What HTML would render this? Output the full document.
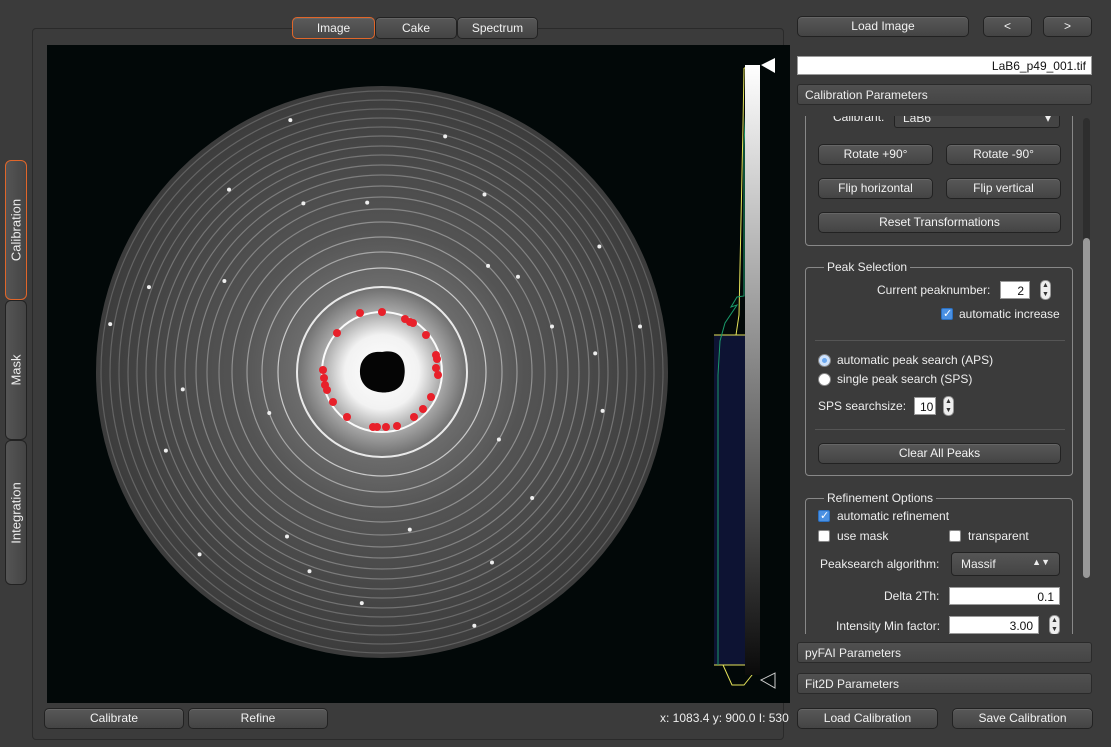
<!DOCTYPE html>
<html><head><meta charset="utf-8">
<style>
*{box-sizing:border-box}
body{margin:0;width:1111px;height:747px;background:#3b3b3b;font-family:"Liberation Sans",sans-serif;font-size:12px;color:#eee;position:relative;overflow:hidden}
.btn{position:absolute;border:1px solid #222;border-radius:5px;background:linear-gradient(#585858,#444);color:#f2f2f2;text-align:center;font-size:12px;box-shadow:inset 0 1px 0 #666}
.abs{position:absolute}
.group{position:absolute;border:1px solid #888;border-radius:4px}
.gtitle{position:absolute;top:-8px;left:18px;background:#3b3b3b;padding:0 3px;font-size:12px}
.hdr{position:absolute;left:797px;width:295px;height:21px;border:1px solid #2a2a2a;border-radius:3px;background:linear-gradient(#505050,#454545);padding:3px 7px;font-size:12px}
.inp{position:absolute;background:#fff;color:#111;border:1px solid #999;text-align:right;padding:2px 5px;font-size:12px;height:18px}
.cb{position:absolute;width:12px;height:12px;background:#fff;border:1px solid #888;border-radius:2px}
.cb.on{background:#4a90e2;border-color:#2a70c2}
.cb.on::after{content:"✓";color:#fff;font-size:11px;position:absolute;left:1px;top:-2px}
.rb{position:absolute;width:13px;height:13px;border-radius:50%;background:#fff;border:1px solid #888}
.rb.on{background:#6aa8f0;box-shadow:inset 0 0 0 3px #cfe2fb}
.vtab{position:absolute;left:5px;width:22px;border:1px solid #222;border-radius:6px;background:linear-gradient(90deg,#555,#444)}
.vtab span{position:absolute;left:50%;top:50%;transform:translate(-50%,-50%) rotate(-90deg);white-space:nowrap;font-size:13px}
.spin{position:absolute;width:11px;height:20px;border:1px solid #999;border-radius:5px;background:#eee;color:#333;font-size:7px;line-height:9px;text-align:center}
</style></head><body>
<div class="abs" style="left:32px;top:28px;width:752px;height:712px;border:1px solid #2a2a2a;border-radius:4px;background:#3b3b3b"></div>
<div class="btn" style="left:292px;top:17px;width:83px;height:22px;line-height:20px;border-color:#e0662a;background:linear-gradient(#5a5a5a,#474747)">Image</div>
<div class="btn" style="left:375px;top:17px;width:82px;height:22px;line-height:20px">Cake</div>
<div class="btn" style="left:457px;top:17px;width:81px;height:22px;line-height:20px">Spectrum</div>

<div class="vtab" style="top:160px;height:140px;border-color:#e0662a"><span>Calibration</span></div>
<div class="vtab" style="top:300px;height:140px"><span>Mask</span></div>
<div class="vtab" style="top:440px;height:145px"><span>Integration</span></div>

<svg class="abs" style="left:47px;top:45px" width="743" height="658" viewBox="0 0 743 658">
<defs>
<radialGradient id="disc" cx="335" cy="327" r="286" gradientUnits="userSpaceOnUse">
<stop offset="0" stop-color="#fff"/><stop offset="0.13" stop-color="#f2f2f2"/><stop offset="0.2" stop-color="#b0b0b0"/><stop offset="0.3" stop-color="#6c6c6c"/><stop offset="0.5" stop-color="#545454"/><stop offset="1" stop-color="#3c3c3c"/>
</radialGradient>
<linearGradient id="cbar" x1="0" y1="0" x2="0" y2="1"><stop offset="0" stop-color="#fff"/><stop offset="1" stop-color="#0a0a0a"/></linearGradient>
</defs>
<rect width="743" height="658" fill="#020808"/>
<circle cx="335" cy="327" r="286" fill="url(#disc)"/>
<g id="rings"></g><g id="spots"></g>
<path d="M335 307 C354 303 360 318 357 333 C355 346 340 350 327 346 C314 342 311 330 314 319 C318 309 326 306 335 307Z" fill="#050505"/>
<g id="peaks"></g>
<rect x="667" y="290" width="31" height="330" fill="#0d1333"/>
<line x1="667" y1="290" x2="698" y2="290" stroke="#e6e35a"/><line x1="667" y1="620" x2="698" y2="620" stroke="#e6e35a"/>
<polyline points="697,23 705,23 705,630 697,640 685,640 676,620" fill="none" stroke="#e6e35a"/>
<polyline points="689,290 692,270 696,80 697,23" fill="none" stroke="#e6e35a"/>
<polyline points="671,620 671,330 673,296 678,278 690,260 684,262 690,252 697,251 697,100 699,60" fill="none" stroke="#1a9a6a"/>
<rect x="698" y="20" width="15" height="610" fill="url(#cbar)"/>
<polygon points="714,20 728,13 728,28" fill="#fff"/>
<polygon points="714,635 728,628 728,643" fill="none" stroke="#ccc"/>
</svg>
<script>
const ringRadii=[60,85,104,120,135,150,163,175,186,197,207,217,226,236,245,254,263,272,281];
const ringAlpha=[0.95,0.85,0.65,0.45,0.4,0.35,0.3,0.3,0.3,0.28,0.28,0.25,0.25,0.25,0.22,0.22,0.2,0.2,0.18];
const peakX=[360,382,405,410,413,426,436,437,436,438,431,423,414,397,386,373,377,347,333,327,325,324,323,337];
const peakY=[313,312,319,322,323,335,355,359,368,375,397,409,417,426,427,427,427,417,402,390,385,378,370,333];
const spotR=[176,182,230,251,268,212,196,244,160,224,276,238,205,258,150,170,190,220,262,120,135,248,270,186,214,232,200,166];
const spotA=[15,150,200,30,110,250,320,75,280,350,170,130,60,225,45,95,240,300,10,200,330,160,290,115,5,265,185,35];
const NS="http://www.w3.org/2000/svg",ox=47,oy=45,cx=335,cy=327;
const rg=document.getElementById('rings');
ringRadii.forEach((r,i)=>{const c=document.createElementNS(NS,'circle');


c.setAttribute('cx',cx);c.setAttribute('cy',cy);c.setAttribute('r',r);c.setAttribute('fill','none');
c.setAttribute('stroke','rgba(255,255,255,'+ringAlpha[i]+')');c.setAttribute('stroke-width',i<2?2:1.2);rg.appendChild(c);});
const sg=document.getElementById('spots');
spotR.forEach((r,i)=>{const a=spotA[i]*Math.PI/180;const c=document.createElementNS(NS,'circle');


c.setAttribute('cx',cx+r*Math.cos(a));c.setAttribute('cy',cy-r*Math.sin(a));c.setAttribute('r',2);c.setAttribute('fill','#eee');sg.appendChild(c);});
const pg=document.getElementById('peaks');
peakX.forEach((x,i)=>{const c=document.createElementNS(NS,'circle');


c.setAttribute('cx',x-ox);c.setAttribute('cy',peakY[i]-oy);c.setAttribute('r',4);c.setAttribute('fill','#e8202a');pg.appendChild(c);});
</script>

<div class="btn" style="left:44px;top:708px;width:140px;height:21px;line-height:19px">Calibrate</div>
<div class="btn" style="left:188px;top:708px;width:140px;height:21px;line-height:19px">Refine</div>
<div class="abs" style="left:660px;top:711px;font-size:12px">x: 1083.4 y: 900.0 I: 530</div>

<div class="btn" style="left:797px;top:16px;width:172px;height:21px;line-height:19px">Load Image</div>
<div class="btn" style="left:983px;top:16px;width:49px;height:21px;line-height:19px">&lt;</div>
<div class="btn" style="left:1043px;top:16px;width:49px;height:21px;line-height:19px">&gt;</div>
<div class="inp" style="left:797px;top:56px;width:295px;height:19px">LaB6_p49_001.tif</div>
<div class="hdr" style="top:84px">Calibration Parameters</div>

<div class="abs" style="left:797px;top:116px;width:296px;height:518px;overflow:hidden">
 <div class="group" style="left:8px;top:-10px;width:268px;height:140px"></div>
 <div class="abs" style="left:36px;top:-6px">Calibrant:</div>
 <div class="abs" style="left:97px;top:-8px;width:166px;height:20px;border:1px solid #222;border-radius:3px;background:#444;padding:2px 8px">LaB6<span style="float:right">▾</span></div>
 <div class="btn" style="left:21px;top:28px;width:115px;height:21px;line-height:19px">Rotate +90°</div>
 <div class="btn" style="left:149px;top:28px;width:115px;height:21px;line-height:19px">Rotate -90°</div>
 <div class="btn" style="left:21px;top:62px;width:115px;height:21px;line-height:19px">Flip horizontal</div>
 <div class="btn" style="left:149px;top:62px;width:115px;height:21px;line-height:19px">Flip vertical</div>
 <div class="btn" style="left:21px;top:96px;width:243px;height:21px;line-height:19px">Reset Transformations</div>

 <div class="group" style="left:8px;top:151px;width:268px;height:209px"><div class="gtitle">Peak Selection</div></div>
 <div class="abs" style="left:80px;top:167px">Current peaknumber:</div>
 <div class="inp" style="left:203px;top:165px;width:30px">2</div>
 <div class="spin" style="left:243px;top:164px">▲<br>▼</div>
 <div class="cb on" style="left:144px;top:192px"></div>
 <div class="abs" style="left:162px;top:191px">automatic increase</div>
 <div class="abs" style="left:18px;top:224px;width:250px;border-top:1px solid #555"></div>
 <div class="rb on" style="left:21px;top:238px"></div>
 <div class="abs" style="left:40px;top:237px">automatic peak  search (APS)</div>
 <div class="rb" style="left:21px;top:257px"></div>
 <div class="abs" style="left:40px;top:256px">single peak search (SPS)</div>
 <div class="abs" style="left:21px;top:283px">SPS searchsize:</div>
 <div class="inp" style="left:117px;top:281px;width:22px">10</div>
 <div class="spin" style="left:146px;top:280px">▲<br>▼</div>
 <div class="abs" style="left:18px;top:313px;width:250px;border-top:1px solid #555"></div>
 <div class="btn" style="left:21px;top:327px;width:243px;height:21px;line-height:19px">Clear All Peaks</div>

 <div class="group" style="left:8px;top:382px;width:268px;height:150px"><div class="gtitle">Refinement Options</div></div>
 <div class="cb on" style="left:21px;top:394px"></div>
 <div class="abs" style="left:40px;top:393px">automatic refinement</div>
 <div class="cb" style="left:21px;top:414px"></div>
 <div class="abs" style="left:40px;top:413px">use mask</div>
 <div class="cb" style="left:152px;top:414px"></div>
 <div class="abs" style="left:171px;top:413px">transparent</div>
 <div class="abs" style="left:23px;top:441px">Peaksearch algorithm:</div>
 <div class="abs" style="left:154px;top:436px;width:109px;height:24px;border:1px solid #222;border-radius:4px;background:linear-gradient(#555,#444);padding:4px 9px">Massif<span style="float:right;font-size:9px">▲▼</span></div>
 <div class="abs" style="left:87px;top:473px">Delta 2Th:</div>
 <div class="inp" style="left:152px;top:471px;width:111px">0.1</div>
 <div class="abs" style="left:39px;top:503px">Intensity Min factor:</div>
 <div class="inp" style="left:152px;top:500px;width:90px">3.00</div>
 <div class="spin" style="left:252px;top:499px">▲<br>▼</div>
</div>
<div class="abs" style="left:1083px;top:118px;width:7px;height:460px;border-radius:4px;background:#2e2e2e"><div style="position:absolute;left:0;top:120px;width:7px;height:340px;border-radius:4px;background:#999"></div></div>
<div class="hdr" style="top:642px">pyFAI Parameters</div>
<div class="hdr" style="top:673px">Fit2D Parameters</div>
<div class="btn" style="left:797px;top:708px;width:141px;height:21px;line-height:19px">Load Calibration</div>
<div class="btn" style="left:952px;top:708px;width:141px;height:21px;line-height:19px">Save Calibration</div>
</body></html>
